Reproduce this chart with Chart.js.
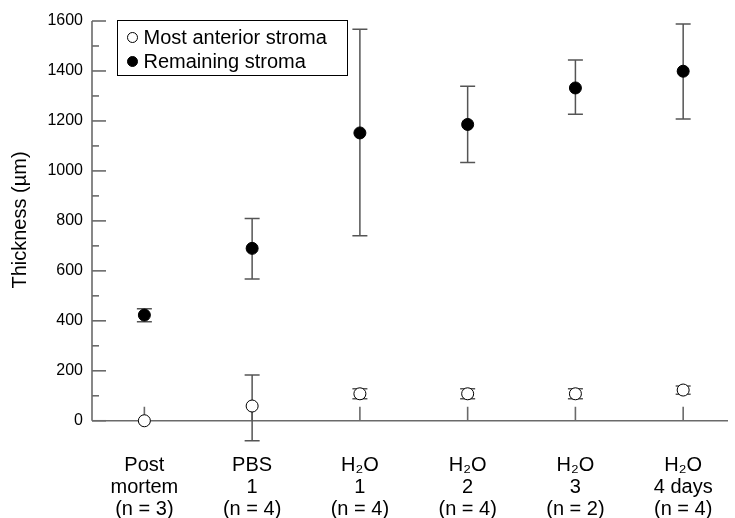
<!DOCTYPE html>
<html>
<head>
<meta charset="utf-8">
<script src="https://cdn.jsdelivr.net/npm/chart.js@4"></script>
<style>
  html, body { margin: 0; padding: 0; background: #fff; }
  #wrap { width: 735px; height: 518px; }
</style>
</head>
<body>
<div id="wrap"><canvas id="thicknessChart"></canvas></div>
<script>
// categories, shown as 3-line tick labels
const categories = [
    ['Post', 'mortem', '(n = 3)'],
    ['PBS', '1', '(n = 4)'],
    ['H\u2082O', '1', '(n = 4)'],
    ['H\u2082O', '2', '(n = 4)'],
    ['H\u2082O', '3', '(n = 2)'],
    ['H\u2082O', '4 days', '(n = 4)']
];

// most anterior stroma (open circles)
const anteriorMean = [0, 59, 108, 108, 108, 123];
const anteriorLow  = [0, -80, 88, 88, 88, 106];
const anteriorHigh = [0, 183, 128, 128, 128, 139];

// remaining stroma (filled circles)
const remainingMean = [423, 690, 1152, 1186, 1332, 1399];
const remainingLow  = [396, 567, 740, 1034, 1227, 1208];
const remainingHigh = [448, 810, 1567, 1339, 1444, 1588];

const yTickValues = [0, 200, 400, 600, 800, 1000, 1200, 1400, 1600];
const yMinorTicks = [100, 300, 500, 700, 900, 1100, 1300, 1500];
const yTitle = 'Thickness (\u00b5m)';

const FONT = "'Liberation Sans', Arial, Helvetica, sans-serif";

function toPoints(values) {
    return values.map((v, i) => ({x: i, y: v}));
}

// error bars + hand-drawn axes with inward ticks
const axesAndErrors = {
    id: 'axesAndErrors',
    beforeDatasetsDraw(chart) {
        const ctx = chart.ctx;
        const xs = chart.scales.x;
        const ys = chart.scales.y;
        const area = chart.chartArea;
        const y0 = ys.getPixelForValue(0);
        const left = area.left;

        ctx.save();
        ctx.strokeStyle = '#6a6a6a';
        ctx.lineWidth = 1.6;

        // y axis line (0..1600)
        ctx.beginPath();
        ctx.moveTo(left, ys.getPixelForValue(1600));
        ctx.lineTo(left, y0);
        ctx.stroke();

        // x axis line at zero
        ctx.beginPath();
        ctx.moveTo(left, y0);
        ctx.lineTo(area.right, y0);
        ctx.stroke();

        // y ticks, pointing inward
        yTickValues.forEach(v => {
            const py = ys.getPixelForValue(v);
            ctx.beginPath();
            ctx.moveTo(left, py);
            ctx.lineTo(left + 14, py);
            ctx.stroke();
        });
        yMinorTicks.forEach(v => {
            const py = ys.getPixelForValue(v);
            ctx.beginPath();
            ctx.moveTo(left, py);
            ctx.lineTo(left + 7, py);
            ctx.stroke();
        });

        // x ticks, pointing up
        categories.forEach((c, i) => {
            const px = xs.getPixelForValue(i);
            ctx.beginPath();
            ctx.moveTo(px, y0);
            ctx.lineTo(px, y0 - 14);
            ctx.stroke();
        });

        // error bars
        ctx.strokeStyle = '#555';
        ctx.lineWidth = 1.5;
        const bars = [[anteriorLow, anteriorHigh], [remainingLow, remainingHigh]];
        bars.forEach(([lo, hi]) => {
            lo.forEach((l, i) => {
                const h = hi[i];
                if (l === h) return;
                const px = xs.getPixelForValue(i);
                const pl = ys.getPixelForValue(l);
                const ph = ys.getPixelForValue(h);
                ctx.beginPath();
                ctx.moveTo(px, pl);
                ctx.lineTo(px, ph);
                ctx.moveTo(px - 7.5, pl);
                ctx.lineTo(px + 7.5, pl);
                ctx.moveTo(px - 7.5, ph);
                ctx.lineTo(px + 7.5, ph);
                ctx.stroke();
            });
        });
        ctx.restore();
    },
    afterDraw(chart) {
        const ctx = chart.ctx;

        // y title, rotated
        ctx.save();
        ctx.translate(20, 220);
        ctx.rotate(-Math.PI / 2);
        ctx.font = '20px ' + FONT;
        ctx.fillStyle = '#000';
        ctx.textAlign = 'center';
        ctx.textBaseline = 'middle';
        ctx.fillText(yTitle, 0, 0);
        ctx.restore();

        // boxed legend, top left inside the plot
        const box = {x: 117.5, y: 20.5, w: 230, h: 55};
        ctx.save();
        ctx.fillStyle = '#fff';
        ctx.fillRect(box.x, box.y, box.w, box.h);
        ctx.strokeStyle = '#000';
        ctx.lineWidth = 1;
        ctx.strokeRect(box.x, box.y, box.w, box.h);

        ctx.font = '20px ' + FONT;
        ctx.textBaseline = 'middle';
        ctx.textAlign = 'left';
        chart.data.datasets.forEach((ds, i) => {
            const cy = box.y + 17 + i * 24;
            ctx.beginPath();
            ctx.arc(box.x + 15, cy, 5, 0, Math.PI * 2);
            ctx.fillStyle = ds.pointBackgroundColor;
            ctx.fill();
            ctx.strokeStyle = '#000';
            ctx.lineWidth = 1;
            ctx.stroke();
            ctx.fillStyle = '#000';
            ctx.fillText(ds.label, box.x + 26, cy + 1);
        });
        ctx.restore();
    }
};

const ctx = document.getElementById('thicknessChart').getContext('2d');

new Chart(ctx, {
    type: 'scatter',
    data: {
        datasets: [
            {
                label: 'Most anterior stroma',
                data: toPoints(anteriorMean),
                pointBackgroundColor: '#fff',
                pointBorderColor: '#000',
                pointBorderWidth: 1,
                pointRadius: 6,
                showLine: false
            },
            {
                label: 'Remaining stroma',
                data: toPoints(remainingMean),
                pointBackgroundColor: '#000',
                pointBorderColor: '#000',
                pointBorderWidth: 1,
                pointRadius: 6,
                showLine: false
            }
        ]
    },
    plugins: [axesAndErrors],
    options: {
        responsive: true,
        maintainAspectRatio: false,
        animation: false,
        layout: {
            padding: {top: 21, right: 0, bottom: 0, left: 0}
        },
        plugins: {
            legend: {display: false},
            tooltip: {enabled: false}
        },
        scales: {
            x: {
                type: 'linear',
                min: -0.486,
                max: 5.416,
                grid: {display: false, drawTicks: false},
                border: {display: false},
                afterBuildTicks: (scale) => {
                    scale.ticks = categories.map((c, i) => ({value: i}));
                },
                afterFit: (scale) => {
                    scale.height = 70;
                },
                ticks: {
                    padding: 6,
                    color: '#000',
                    autoSkip: false,
                    maxRotation: 0,
                    font: {family: FONT, size: 20, lineHeight: 1.115},
                    callback: (value) => categories[value]
                }
            },
            y: {
                min: -109,
                max: 1600,
                grid: {display: false, drawTicks: false},
                border: {display: false},
                afterBuildTicks: (scale) => {
                    scale.ticks = yTickValues.map(v => ({value: v}));
                },
                afterFit: (scale) => {
                    scale.width = 92;
                },
                ticks: {
                    padding: 9,
                    color: '#000',
                    font: {family: FONT, size: 16},
                    callback: (value) => String(value)
                }
            }
        }
    }
});
</script>
</body>
</html>
